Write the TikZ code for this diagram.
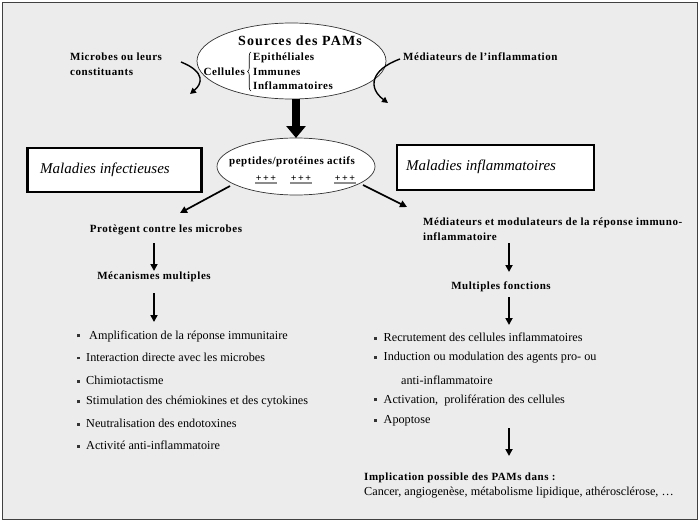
\documentclass[tikz,border=0pt]{standalone}
\usepackage{fontspec}
\setmainfont{Liberation Serif}
\newfontfamily\lsp[LetterSpace=5]{Liberation Serif}
\newfontfamily\lspt[LetterSpace=8]{Liberation Serif}
\usetikzlibrary{arrows.meta,shapes.geometric,decorations.pathreplacing}
\newcommand\bsq{\textcolor{black!80}{\rule[0.3ex]{3pt}{3pt}}\hspace{6.5pt}}
\begin{document}
\begin{tikzpicture}[x=1pt,y=-1pt,
  lbl/.style={font=\lsp\bfseries\fontsize{11}{15}\selectfont, inner sep=0pt},
  lblw/.style={lbl, anchor=west},
  item/.style={font=\fontsize{12.2}{14}\selectfont, anchor=west, inner sep=0pt},
  arr/.style={-{Triangle[length=7pt,width=7pt]}, line width=1.7pt},
  carr/.style={-{Triangle[length=6pt,width=6pt]}, line width=1.4pt},
  thickarr/.style={-{Triangle[length=12pt,width=19pt]}, line width=8pt},
  bigbox/.style={draw, line width=2.6pt, fill=white, inner sep=0pt},
  ell/.style={ellipse, draw=black!80, fill=white, line width=0.7pt, inner sep=0pt},
  plus/.style={font=\bfseries\fontsize{10}{11}\selectfont, inner sep=0.5pt},
  ul/.style={draw=gray!90, line width=2pt},
  ttl/.style={font=\itshape\fontsize{15}{17}\selectfont, anchor=west, inner sep=0pt}]
\useasboundingbox (0,0) rectangle (700,522);
\draw[fill=black!7.5, draw=black!75, line width=1pt] (2,2) rectangle (697,519);

% top ellipse
\node[ell, minimum width=189pt, minimum height=76pt] (src) at (291.5,61) {};
\node[font=\lspt\bfseries\fontsize{14}{16}\selectfont, inner sep=0pt] (srct) at (300,41) {Sources des PAMs};
\node[lbl, anchor=east] (cel) at (245,72) {Cellules};
\node[lblw] (epi) at (253,58) {Epithéliales};
\node[lblw] (imm) at (253,72) {Immunes};
\node[lblw] (inf) at (253,86) {Inflammatoires};
\draw[decorate, decoration={brace, amplitude=3.5pt}, line width=0.6pt] (251,91) -- (251,52);

% side labels
\node[lblw, align=left] (mic) at (70,64) {Microbes ou leurs\\constituants};
\node[lblw] (med) at (403,57) {Médiateurs de l’inflammation};
\coordinate (micS) at (181,62);
\coordinate (micE) at (190,94);
\coordinate (medS) at (400,59);
\coordinate (medE) at (388,103);
\draw[carr] (micS) .. controls (206,72) and (202,84) .. (micE);
\draw[carr] (medS) .. controls (370,70) and (368,88) .. (medE);

% peptides ellipse
\node[ell, minimum width=158pt, minimum height=57pt] (pep) at (296,166.5) {};
\coordinate (ta) at (296,99);
\coordinate (tb) at (296,138);
\draw[thickarr] (ta) -- (tb);
\node[lbl] (pept) at (292,162) {peptides/protéines actifs};
\node[plus] (p1) at (266,179) {+\kern1.5pt+\kern1.5pt+};
\node[plus] (p2) at (301,179) {+\kern1.5pt+\kern1.5pt+};
\node[plus] (p3) at (345,179) {+\kern1.5pt+\kern1.5pt+};
\draw[ul] ([yshift=-0.5pt]p1.south west) -- ([yshift=-0.5pt]p1.south east);
\draw[ul] ([yshift=-0.5pt]p2.south west) -- ([yshift=-0.5pt]p2.south east);
\draw[ul] ([yshift=-0.5pt]p3.south west) -- ([yshift=-0.5pt]p3.south east);

% boxes
\node[bigbox, minimum width=174pt, minimum height=44pt] (binf) at (114.5,170) {};
\node[ttl] (binft) at (40,170) {Maladies infectieuses};
\node[bigbox, minimum width=197pt, minimum height=45pt] (binfl) at (495.5,167.5) {};
\node[ttl] (binflt) at (406,167) {Maladies inflammatoires};

% left branch
\coordinate (la) at (230,186);
\coordinate (lb) at (180,213);
\draw[arr] (la) -- (lb);
\node[lbl] (prot) at (166,230) {Protègent contre les microbes};
\coordinate (l1) at (154,243);
\coordinate (l2) at (154,271);
\draw[arr] (l1) -- (l2);
\node[lbl] (meca) at (154,277) {Mécanismes multiples};
\coordinate (l3) at (154,293);
\coordinate (l4) at (154,322);
\draw[arr] (l3) -- (l4);

\node[item] (a1) at (76.5,336) {\bsq\hspace{3pt}Amplification de la réponse immunitaire};
\node[item] (a2) at (76.5,357) {\bsq Interaction directe avec les microbes};
\node[item] (a3) at (76.5,380) {\bsq Chimiotactisme};
\node[item] (a4) at (76.5,402) {\bsq Stimulation des chémiokines et des cytokines};
\node[item] (a5) at (76.5,423) {\bsq Neutralisation des endotoxines};
\node[item] (a6) at (76.5,445) {\bsq Activité anti-inflammatoire};

% right branch
\coordinate (ra) at (363,185);
\coordinate (rb) at (407,207);
\draw[arr] (ra) -- (rb);
\node[lblw, align=left] (medm) at (423,229) {Médiateurs et modulateurs de la réponse immuno-\\inflammatoire};
\coordinate (r1) at (509,243);
\coordinate (r2) at (509,272);
\draw[arr] (r1) -- (r2);
\node[lbl] (mult) at (501,287) {Multiples fonctions};
\coordinate (r3) at (509,297);
\coordinate (r4) at (509,325);
\draw[arr] (r3) -- (r4);

\node[item] (b1) at (374,337) {\bsq Recrutement des cellules inflammatoires};
\node[item] (b2) at (374,358) {\bsq Induction ou modulation des agents pro- ou};
\node[item] (b2b) at (401,380) {anti-inflammatoire};
\node[item] (b3) at (374,400) {\bsq Activation,\ \ prolifération des cellules};
\node[item] (b4) at (374,421) {\bsq Apoptose};
\coordinate (r5) at (509,428);
\coordinate (r6) at (509,456);
\draw[arr] (r5) -- (r6);
\node[lblw] (impl) at (364,478) {Implication possible des PAMs dans :};
\node[item] (canc) at (364,493) {Cancer, angiogenèse, métabolisme lipidique, athérosclérose, …};
\end{tikzpicture}
\end{document}
